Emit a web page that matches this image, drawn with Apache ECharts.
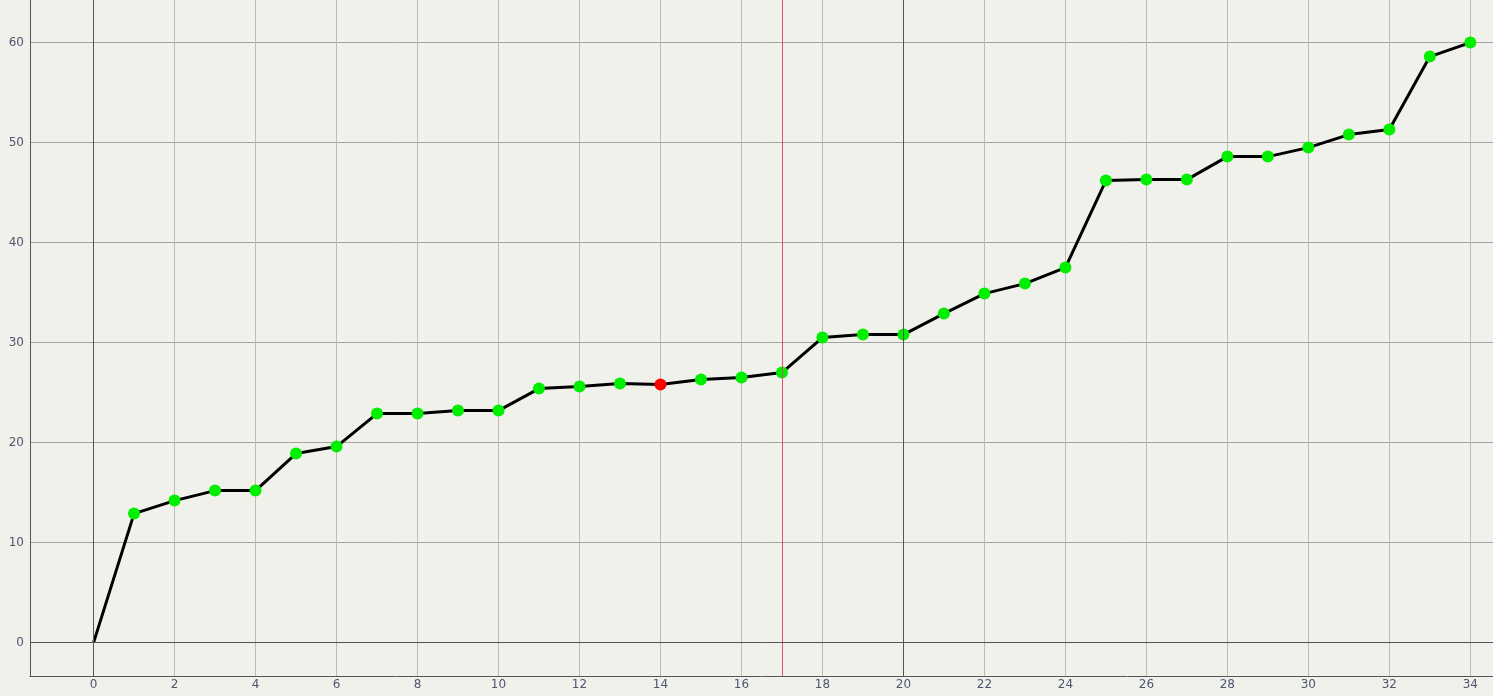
<!DOCTYPE html>
<html>
<head>
<meta charset="utf-8">
<script src="https://cdn.jsdelivr.net/npm/echarts@6/dist/echarts.min.js"></script>
<style>
html,body{margin:0;padding:0;background:#f1f1ec;}
#chart{width:1493px;height:696px;}
</style>
</head>
<body>
<div id="chart"></div>
<script>
var xValues = [0,1,2,3,4,5,6,7,8,9,10,11,12,13,14,15,16,17,18,19,20,21,22,23,24,25,26,27,28,29,30,31,32,33,34];
var yValues = [0,12.9,14.2,15.2,15.2,18.9,19.6,22.9,22.9,23.2,23.2,25.4,25.6,25.9,25.8,26.3,26.5,27.0,30.5,30.8,30.8,32.9,34.9,35.9,37.5,46.2,46.3,46.3,48.6,48.6,49.5,50.8,51.3,58.6,60];
var highlightIndex = 14;
var noMarkerIndex = 0;
var xTicks = [0,2,4,6,8,10,12,14,16,18,20,22,24,26,28,30,32,34];
var yTicks = [0,10,20,30,40,50,60];
var darkVLines = [0,20];
var redVLines = [17];
var darkHLines = [0];

var seriesData = xValues.map(function(x,i){
  var item = {value:[x,yValues[i]]};
  if (i === highlightIndex) item.itemStyle = {color:'#ff0000'};
  if (i === noMarkerIndex) item.symbol = 'none';
  return item;
});

var markData = [];
darkVLines.forEach(function(v){ markData.push({xAxis:v, lineStyle:{color:'#555555',width:1,type:'solid'}}); });
redVLines.forEach(function(v){ markData.push({xAxis:v, lineStyle:{color:'#e4506a',width:1,type:'solid'}}); });
darkHLines.forEach(function(v){ markData.push({yAxis:v, lineStyle:{color:'#555555',width:1,type:'solid'}}); });

var chart = echarts.init(document.getElementById('chart'), null, {renderer:'canvas'});
chart.setOption({
  backgroundColor:'#f1f1ec',
  animation:false,
  grid:{left:30,right:0,top:0,bottom:20,containLabel:false},
  xAxis:{
    type:'value', min:-1.57, max:34.56,
    axisLine:{show:true,onZero:false,lineStyle:{color:'#555555',width:1}},
    axisTick:{show:false,customValues:xTicks},
    axisLabel:{customValues:xTicks,color:'#4e5670',fontSize:12,fontFamily:'DejaVu Sans',margin:3},
    splitLine:{show:true,lineStyle:{color:'#bdbdb8',width:1}}
  },
  yAxis:{
    type:'value', min:-3.34, max:64.26,
    axisLine:{show:true,onZero:false,lineStyle:{color:'#555555',width:1}},
    axisTick:{show:false,customValues:yTicks},
    axisLabel:{customValues:yTicks,color:'#4e5670',fontSize:12,fontFamily:'DejaVu Sans',margin:6},
    splitLine:{show:true,lineStyle:{color:'#a4a4a0',width:1}}
  },
  series:[
    {
      type:'line', data:[], z:1, silent:true,
      markLine:{silent:true,symbol:['none','none'],label:{show:false},animation:false,data:markData}
    },
    {
      type:'line', z:3, data:seriesData,
      symbol:'circle', symbolSize:12,
      itemStyle:{color:'#00ee00'},
      lineStyle:{color:'#000000',width:3},
      showAllSymbol:true
    }
  ]
});
</script>
</body>
</html>
